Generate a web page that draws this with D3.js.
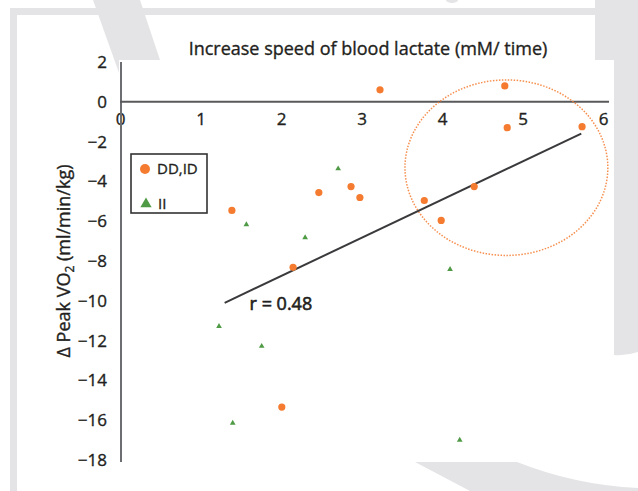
<!DOCTYPE html>
<html>
<head>
<meta charset="utf-8">
<script src="https://cdn.jsdelivr.net/npm/d3@7"></script>
<style>
  body { margin: 0; background: #fff; }
  text { font-family: "Open Sans", "Noto Sans", sans-serif; fill: #231f20; stroke: #231f20; stroke-width: 0.35px; }
</style>
</head>
<body>
<div id="chart"></div>
<script>
var width = 638,
    height = 491;

// ******* data ********* //
var xTicks = [0, 1, 2, 3, 4, 5, 6];
var yTicks = [2, 0, -2, -4, -6, -8, -10, -12, -14, -16, -18];

// DD,ID group (orange circles)
var ddX = [3.23, 4.78, 4.81, 5.74, 1.39, 2.47, 2.87, 2.98, 3.78, 3.99, 4.40, 2.15, 2.01];
var ddY = [0.6, 0.8, -1.3, -1.25, -5.46, -4.56, -4.26, -4.81, -4.96, -5.96, -4.26, -8.32, -15.34];

// II group (green triangles)
var iiX = [2.71, 1.57, 2.30, 4.10, 1.23, 1.76, 1.40, 4.22];
var iiY = [-3.36, -6.17, -6.82, -8.42, -11.28, -12.28, -16.14, -17.0];

// regression line end points
var fitX = [1.3, 5.73];
var fitY = [-10.1, -1.6];

var rLabel = "r = 0.48";
var ellipseCenter = [4.8, -3.31];
var ellipseRadius = [1.26, 4.41];

var orange = "#f47b2f",
    green = "#4f9a45",
    band = "#e4e4e6";

var svg = d3.select("#chart")
    .append("svg")
    .attr("width", width)
    .attr("height", height);

// ******* page background shapes ********* //
var bg = svg.append("g");
bg.append("polygon").attr("points", "93,0 140,0 240,300 200,300").attr("fill", band);
bg.append("rect").attr("x", 10).attr("y", 8).attr("width", 628).attr("height", 7).attr("fill", band);
bg.append("rect").attr("x", 10).attr("y", 8).attr("width", 7).attr("height", 483).attr("fill", band);
bg.append("rect").attr("x", 595).attr("y", 0).attr("width", 43).attr("height", 60).attr("fill", band);
bg.append("path").attr("d", "M614,60 L638,60 L638,352 Q626,356 614,355 Z").attr("fill", band);
bg.append("ellipse").attr("cx", 452).attr("cy", 0).attr("rx", 6).attr("ry", 3).attr("fill", band);
bg.append("path").attr("d", "M415,462 L517,462 Q575,485 638,488 L638,491 L470,491 Z").attr("fill", band);
bg.append("rect").attr("x", 119).attr("y", 60).attr("width", 495).attr("height", 402).attr("fill", "#fff");

// ******* scales ********* //
var x = d3.scaleLinear().domain([0, 6]).range([120, 603]);
var y = d3.scaleLinear().domain([-18, 2]).range([460, 62]);

function fmt(d) { return d < 0 ? "\u2212" + Math.abs(d) : "" + d; }

// ******* axes ********* //
var xAxis = svg.append("g")
    .attr("transform", "translate(0," + y(0) + ")")
    .call(d3.axisBottom(x).tickValues(xTicks).tickSize(0).tickPadding(11).tickFormat(fmt));
xAxis.select(".domain").remove();
xAxis.selectAll("text").style("font-size", "17px").style("fill", "#231f20");

var yAxis = svg.append("g")
    .attr("transform", "translate(" + x(0) + ",0)")
    .call(d3.axisLeft(y).tickValues(yTicks).tickSize(0).tickPadding(13).tickFormat(fmt));
yAxis.select(".domain").remove();
yAxis.selectAll("text").style("font-size", "17px").style("fill", "#231f20");

svg.append("line")
    .attr("x1", x(0) + 1).attr("x2", x(0) + 1)
    .attr("y1", 62).attr("y2", 462)
    .attr("stroke", "#6d6e71").attr("stroke-width", 2);
svg.append("line")
    .attr("x1", x(0)).attr("x2", 609)
    .attr("y1", y(0)).attr("y2", y(0))
    .attr("stroke", "#58595b").attr("stroke-width", 2);

// ******* titles ********* //
svg.append("text")
    .attr("x", 368).attr("y", 55)
    .attr("text-anchor", "middle")
    .style("font-size", "18px")
    .text("Increase speed of blood lactate (mM/ time)");

var yt = svg.append("text")
    .attr("transform", "translate(70,261) rotate(-90)")
    .attr("text-anchor", "middle")
    .style("font-size", "18px");
yt.append("tspan").text("\u0394 Peak VO");
yt.append("tspan").attr("dy", 4).style("font-size", "12px").text("2");
yt.append("tspan").attr("dy", -4).text(" (ml/min/kg)");

// ******* dotted ellipse ********* //
svg.append("ellipse")
    .attr("cx", x(ellipseCenter[0]))
    .attr("cy", y(ellipseCenter[1]))
    .attr("rx", x(ellipseCenter[0] + ellipseRadius[0]) - x(ellipseCenter[0]))
    .attr("ry", y(ellipseCenter[1] - ellipseRadius[1]) - y(ellipseCenter[1]))
    .attr("fill", "none")
    .attr("stroke", orange)
    .attr("stroke-opacity", 0.85)
    .attr("stroke-width", 1.5)
    .attr("stroke-dasharray", "1.5,1.5");

// ******* regression line ********* //
svg.append("line")
    .attr("x1", x(fitX[0])).attr("y1", y(fitY[0]))
    .attr("x2", x(fitX[1])).attr("y2", y(fitY[1]))
    .attr("stroke", "#3a3a3c").attr("stroke-width", 2);

svg.append("text")
    .attr("x", x(1.61)).attr("y", y(-10.45))
    .style("font-size", "18px")
    .style("stroke-width", "0.6px")
    .text(rLabel);

// ******* points ********* //
var dd = ddX.map(function(d, i) { return [d, ddY[i]]; });
var ii = iiX.map(function(d, i) { return [d, iiY[i]]; });

svg.append("g").selectAll("circle")
    .data(dd)
    .enter().append("circle")
    .attr("cx", function(d) { return x(d[0]); })
    .attr("cy", function(d) { return y(d[1]); })
    .attr("r", 3.6)
    .attr("fill", orange);

var tri = d3.symbol().type(d3.symbolTriangle).size(14);
svg.append("g").selectAll("path")
    .data(ii)
    .enter().append("path")
    .attr("transform", function(d) { return "translate(" + x(d[0]) + "," + y(d[1]) + ")"; })
    .attr("d", tri)
    .attr("fill", green);

// ******* legend ********* //
var lg = svg.append("g").attr("transform", "translate(131,154)");
lg.append("rect")
    .attr("width", 76).attr("height", 59)
    .attr("fill", "#fff")
    .attr("stroke", "#333").attr("stroke-width", 1.6);
lg.append("circle").attr("cx", 14).attr("cy", 15).attr("r", 5).attr("fill", orange);
lg.append("text").attr("x", 26).attr("y", 20).style("font-size", "15px").text("DD,ID");
lg.append("path")
    .attr("transform", "translate(15,50)")
    .attr("d", d3.symbol().type(d3.symbolTriangle).size(55))
    .attr("fill", green);
lg.append("text").attr("x", 27).attr("y", 55).style("font-size", "15px").text("II");
</script>
</body>
</html>
